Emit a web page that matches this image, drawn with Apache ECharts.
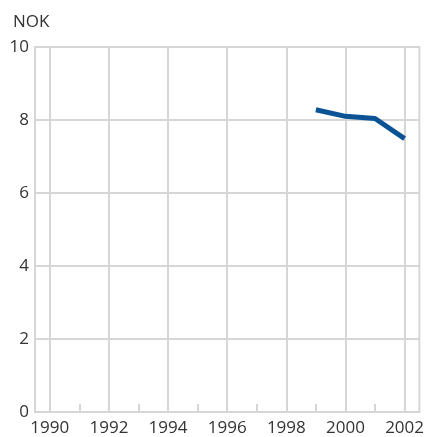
<!DOCTYPE html>
<html lang="en">
<head>
<meta charset="UTF-8">
<title>NOK</title>
<script src="https://cdn.jsdelivr.net/npm/echarts@6/dist/echarts.min.js"></script>
<style>
  body { margin: 0; padding: 0; background: #fff; }
  #main { width: 427px; height: 437px; }
</style>
</head>
<body>
<div id="main"></div>
<script>
// years on the x axis, every other one labelled
const years = ['1990', '1991', '1992', '1993', '1994', '1995', '1996',
  '1997', '1998', '1999', '2000', '2001', '2002'];
// price in NOK, only 1999-2002 reported
const nok = [null, null, null, null, null, null, null, null, null,
  8.28, 8.10, 8.04, 7.49];

const gridColor = '#d6d6d6';
const textColor = '#333';
const font = '"Open Sans", sans-serif';

const chart = echarts.init(document.getElementById('main'));
chart.setOption({
  animation: false,
  title: {
    text: 'NOK', left: 8, top: 9,
    textStyle: { fontFamily: font, fontSize: 17, fontWeight: 'normal', color: textColor }
  },
  grid: {
    left: 35, right: 7, top: 47, bottom: 24,
    show: true, borderColor: gridColor, borderWidth: 2
  },
  xAxis: {
    type: 'category',
    data: years,
    boundaryGap: true,
    axisLine: { lineStyle: { color: gridColor, width: 2 } },
    axisTick: { show: true, inside: true, length: 8, interval: 0, alignWithLabel: true,
      lineStyle: { color: gridColor, width: 2 } },
    axisLabel: { interval: 1, color: textColor, fontFamily: font, fontSize: 17, margin: 8 },
    splitLine: { show: true, interval: 1, alignWithLabel: true,
      lineStyle: { color: gridColor, width: 2 } }
  },
  yAxis: {
    type: 'value',
    min: 0, max: 10, interval: 2,
    axisLine: { show: false },
    axisTick: { show: false },
    axisLabel: { color: textColor, fontFamily: font, fontSize: 17, margin: 6 },
    splitLine: { lineStyle: { color: gridColor, width: 2 } }
  },
  series: [{
    type: 'line',
    data: nok,
    symbol: 'none',
    lineStyle: { color: '#0b5394', width: 5 }
  }]
});
</script>
</body>
</html>
